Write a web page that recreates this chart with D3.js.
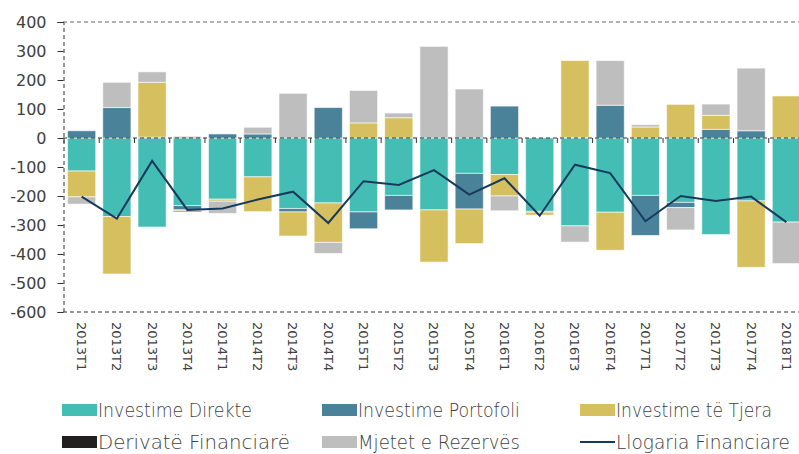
<!DOCTYPE html>
<html>
<head>
<meta charset="utf-8">
<script src="https://cdn.jsdelivr.net/npm/d3@7"></script>
<style>
  body { margin: 0; background: #fff; }
  svg text { font-family: "DejaVu Sans", sans-serif; fill: #404040; }
</style>
</head>
<body>
<script>
// quarters
var categories = ["2013T1","2013T2","2013T3","2013T4","2014T1","2014T2","2014T3","2014T4",
  "2015T1","2015T2","2015T3","2015T4","2016T1","2016T2","2016T3","2016T4",
  "2017T1","2017T2","2017T3","2017T4","2018T1"];

// series (milion euro)
var direkte   = [-114,-271,-307,-233,-211,-134,-243,-224,-255,-198,-248,-122,-126,-253,-303,-256,-198,-222,-333,-217,-290];
var portofoli = [25,105,3,-15,14,14,-12,105,-58,-50,0,-123,110,-3,2,113,-138,-18,30,25,0];
var tjera     = [-89,-198,189,-4,-7,-120,-83,-136,52,70,-180,-119,-74,-10,265,-131,38,116,48,-229,145];
var derivate  = [0,0,0,-3,0,0,0,0,0,0,0,0,0,0,0,0,0,0,0,0,0];
var rezerva   = [-25,87,36,6,-42,23,154,-38,112,16,316,169,-51,0,-56,154,8,-77,39,216,-143];
var llogaria  = [-202,-278,-79,-248,-243,-212,-185,-293,-149,-162,-111,-195,-139,-268,-92,-121,-287,-200,-217,-202,-290];

var yTicks = [400,300,200,100,0,-100,-200,-300,-400,-500,-600];

var series = [
  {name: "Investime Direkte",   values: direkte,   color: "#44BEB4"},
  {name: "Investime Portofoli", values: portofoli, color: "#4A8299"},
  {name: "Investime të Tjera",  values: tjera,     color: "#D5BF5E"},
  {name: "Derivatë Financiarë", values: derivate,  color: "#231F20"},
  {name: "Mjetet e Rezervës",   values: rezerva,   color: "#BEBEBE"}
];

var width = 799, height = 454;
var svg = d3.select("body").append("svg")
  .attr("width", width)
  .attr("height", height);

var xScale = d3.scaleBand()
  .domain(categories)
  .range([64, 804])
  .paddingInner(0.2)
  .paddingOuter(0.1);

var yScale = d3.scaleLinear()
  .domain([-600, 400])
  .range([312, 22]);

// stacked rects, positives up from 0 and negatives down from 0
var rects = [];
categories.forEach(function(c, i){
  var pos = 0, neg = 0;
  series.forEach(function(s){
    var v = s.values[i];
    if (v == 0) return;
    var y0, y1;
    if (v > 0) { y0 = pos; y1 = pos + v; pos = y1; }
    else { y0 = neg; y1 = neg + v; neg = y1; }
    rects.push({cat: c, y0: y0, y1: y1, color: s.color});
  });
});

var g = svg.append("g");

g.selectAll("rect.bar")
  .data(rects)
  .enter().append("rect")
  .attr("class", "bar")
  .attr("x", function(d){ return xScale(d.cat); })
  .attr("width", xScale.bandwidth())
  .attr("y", function(d){ return yScale(Math.max(d.y0, d.y1)); })
  .attr("height", function(d){ return Math.abs(yScale(d.y0) - yScale(d.y1)); })
  .attr("fill", function(d){ return d.color; })
  .attr("stroke", "#fff")
  .attr("stroke-opacity", 0.6)
  .attr("stroke-width", 1);

// frame lines (dashed)
g.append("line")
  .attr("x1", 63).attr("x2", width)
  .attr("y1", yScale(400)).attr("y2", yScale(400))
  .attr("stroke", "#666").attr("stroke-dasharray", "4,3");
g.append("line")
  .attr("x1", 63).attr("x2", width)
  .attr("y1", yScale(-600)).attr("y2", yScale(-600))
  .attr("stroke", "#333").attr("stroke-dasharray", "4,3");
g.append("line")
  .attr("x1", 63).attr("x2", width)
  .attr("y1", yScale(0)).attr("y2", yScale(0))
  .attr("stroke", "#333").attr("stroke-dasharray", "4,3");

// y axis
var yAxis = d3.axisLeft(yScale)
  .tickValues(yTicks)
  .tickSize(6)
  .tickPadding(11)
  .tickFormat(function(d){ return String(d); });
var ya = svg.append("g")
  .attr("transform", "translate(63.5,0)")
  .call(yAxis);
ya.select(".domain").attr("stroke", "#333").attr("stroke-dasharray", "4,3");
ya.selectAll(".tick line").attr("stroke", "#333");
ya.selectAll(".tick text")
  .attr("font-size", 16)
  .attr("fill", "#404040")
  .attr("font-family", "DejaVu Sans, sans-serif");

// small ticks on the zero line between bars
var step = xScale.step();
var bounds = categories.map(function(c){ return xScale(c) - step * 0.1; });
g.selectAll("line.xtick")
  .data(bounds)
  .enter().append("line")
  .attr("class", "xtick")
  .attr("x1", function(d){ return d; })
  .attr("x2", function(d){ return d; })
  .attr("y1", yScale(0))
  .attr("y2", yScale(0) + 5)
  .attr("stroke", "#333");

// line: Llogaria Financiare
var line = d3.line()
  .x(function(d, i){ return xScale(categories[i]) + xScale.bandwidth() / 2; })
  .y(function(d){ return yScale(d); });
g.append("path")
  .datum(llogaria)
  .attr("d", line)
  .attr("fill", "none")
  .attr("stroke", "#173A5C")
  .attr("stroke-width", 2);

// x labels rotated
svg.append("g").selectAll("text")
  .data(categories)
  .enter().append("text")
  .attr("transform", function(d){
    return "translate(" + (xScale(d) + xScale.bandwidth() / 2) + ",322) rotate(90)";
  })
  .attr("dy", "0.35em")
  .attr("font-size", 13)
  .attr("text-anchor", "start")
  .text(function(d){ return d; });

// legend
var legendItems = [
  {name: series[0].name, color: series[0].color, type: "rect", x: 62,  y: 410, w: 154},
  {name: series[1].name, color: series[1].color, type: "rect", x: 322, y: 410, w: 162},
  {name: series[2].name, color: series[2].color, type: "rect", x: 580, y: 410, w: 156},
  {name: series[3].name, color: series[3].color, type: "rect", x: 62,  y: 442, w: 192},
  {name: series[4].name, color: series[4].color, type: "rect", x: 322, y: 442, w: 162},
  {name: "Llogaria Financiare", color: "#173A5C", type: "line", x: 580, y: 442, w: 174}
];

var legend = svg.append("g").selectAll("g")
  .data(legendItems)
  .enter().append("g")
  .attr("transform", function(d){ return "translate(" + d.x + "," + d.y + ")"; });

legend.filter(function(d){ return d.type == "rect"; })
  .append("rect")
  .attr("x", 0).attr("y", -6)
  .attr("width", 35).attr("height", 12)
  .attr("fill", function(d){ return d.color; });

legend.filter(function(d){ return d.type == "line"; })
  .append("line")
  .attr("x1", 0).attr("x2", 35)
  .attr("y1", 0).attr("y2", 0)
  .attr("stroke", function(d){ return d.color; })
  .attr("stroke-width", 2);

// condensed look: squeeze text horizontally to the width seen in the picture
legend.append("text")
  .attr("x", 0)
  .attr("y", 0)
  .attr("dy", "0.36em")
  .attr("font-size", 20)
  .attr("font-family", "Open Sans, sans-serif")
  .attr("font-weight", 300)
  .text(function(d){ return d.name; })
  .attr("transform", function(d){
    var natural = this.getComputedTextLength();
    var s = Math.min(1, d.w / natural);
    return "translate(36,0) scale(" + s + ",1)";
  });
</script>
</body>
</html>
